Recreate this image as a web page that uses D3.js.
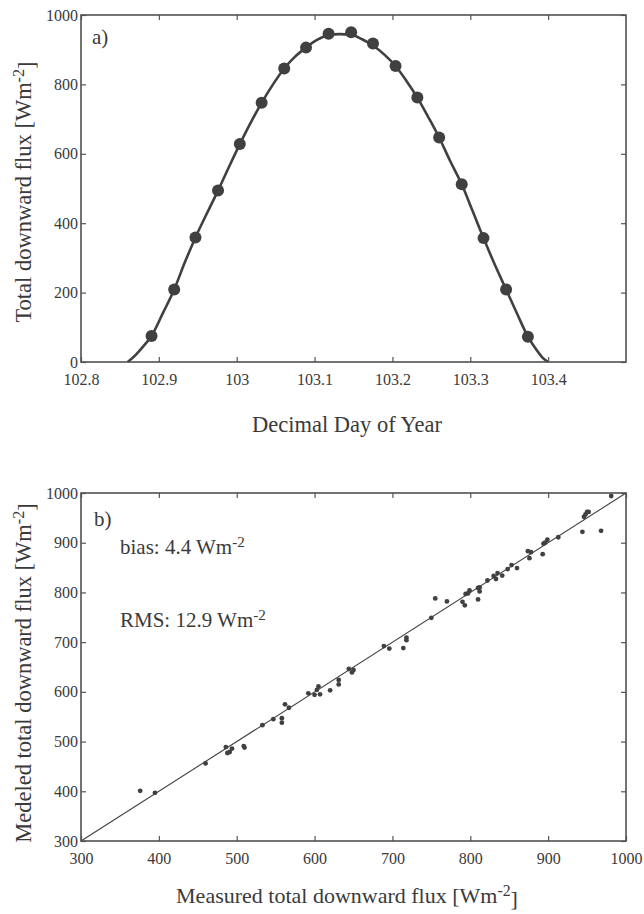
<!DOCTYPE html>
<html>
<head>
<meta charset="utf-8">
<script src="https://cdn.jsdelivr.net/npm/d3@7"></script>
<style>
  body { margin: 0; background: #fff; }
</style>
</head>
<body>
<script>
// panel a) measured curve (decimal day, flux)
const lineDay = [102.860, 102.870, 102.880, 102.8906, 102.905, 102.9197, 102.933, 102.947, 102.961, 102.976,
  102.990, 103.004, 103.018, 103.032, 103.046, 103.061, 103.075, 103.089, 103.103, 103.118,
  103.132, 103.147, 103.161, 103.175, 103.190, 103.204, 103.218, 103.232, 103.246, 103.260,
  103.274, 103.289, 103.303, 103.317, 103.331, 103.346, 103.360, 103.374, 103.385, 103.393, 103.400];
const lineFlux = [0, 20, 45, 75, 140, 209, 285, 359, 425, 494,
  562, 628, 690, 747, 798, 846, 880, 906, 928, 942,
  945, 943, 930, 912, 885, 853, 810, 762, 706, 647,
  580, 512, 435, 357, 283, 209, 140, 73, 35, 12, 0];
// panel a) modeled points
const dotDay = [102.8906, 102.9197, 102.947, 102.976, 103.004, 103.032, 103.061, 103.089, 103.118, 103.147,
  103.175, 103.204, 103.232, 103.260, 103.289, 103.317, 103.346, 103.374];
const dotFlux = [75, 209, 359, 494, 628, 747, 846, 906, 946, 950,
  918, 853, 762, 647, 512, 357, 209, 73];
const dayTicks = [102.8, 102.9, 103, 103.1, 103.2, 103.3, 103.4];
const fluxTicks = [0, 200, 400, 600, 800, 1000];

// panel b) measured vs modeled
const measured = [376, 395, 460, 486, 488, 491, 494, 509, 510, 533,
  547, 558, 558, 562, 567, 592, 600, 603, 605, 607,
  620, 631, 631, 644, 648, 650, 689, 696, 714, 718,
  718, 750, 755, 770, 790, 793, 794, 797, 799, 810,
  812, 812, 810, 822, 830, 833, 835, 841, 848, 853,
  860, 874, 878, 876, 893, 894, 896, 899, 913, 944,
  946, 950, 952, 948, 968, 981];
const modeled = [401, 397, 456, 489, 477, 479, 486, 491, 488, 533,
  545, 547, 538, 575, 568, 597, 594, 604, 611, 595,
  603, 624, 615, 646, 639, 644, 692, 687, 688, 709,
  704, 749, 788, 782, 781, 774, 797, 798, 804, 809,
  810, 802, 786, 824, 833, 827, 839, 834, 847, 855,
  849, 883, 881, 869, 877, 898, 900, 906, 911, 922,
  952, 962, 962, 957, 924, 994];
const scatTicks = [300, 400, 500, 600, 700, 800, 900, 1000];

const W = 644, H = 914;
const FONT = "'Liberation Serif', 'Times New Roman', 'DejaVu Serif', serif";
const svg = d3.select("body").append("svg").attr("width", W).attr("height", H)
  .attr("font-family", FONT);
const ink = "#404040";

function frame(g, x, y, xt, yt, fmtX) {
  const [x0, x1] = x.range(), [y0, y1] = y.range();
  g.append("g").attr("transform", `translate(0,${y0})`)
    .call(d3.axisBottom(x).tickValues(xt).tickSize(-5).tickPadding(12).tickFormat(fmtX));
  g.append("g").attr("transform", `translate(0,${y1})`)
    .call(d3.axisTop(x).tickValues(xt).tickSize(-5).tickFormat(""));
  g.append("g").attr("transform", `translate(${x0},0)`)
    .call(d3.axisLeft(y).tickValues(yt).tickSize(-5).tickPadding(3).tickFormat(d3.format("d")));
  g.append("g").attr("transform", `translate(${x1},0)`)
    .call(d3.axisRight(y).tickValues(yt).tickSize(-5).tickFormat(""));
  g.selectAll(".domain").remove();
  g.selectAll("g").attr("font-family", FONT);
  g.selectAll(".tick line").attr("stroke", "#555").attr("stroke-width", 1.2);
  g.selectAll(".tick text").attr("font-size", 16).attr("fill", "#3a3a3a");
  g.append("rect").attr("x", x0).attr("y", y1).attr("width", x1 - x0).attr("height", y0 - y1)
    .attr("fill", "none").attr("stroke", "#505050").attr("stroke-width", 1.6);
}

function supLabel(sel, base, sup, after) {
  sel.append("tspan").text(base);
  sel.append("tspan").attr("dy", "-0.45em").attr("font-size", "0.72em").text(sup);
  if (after) sel.append("tspan").attr("dy", "0.45em").text(after);
}

function label(g, x, y, size) {
  return g.append("text").attr("x", x).attr("y", y).attr("font-size", size)
    .attr("font-family", FONT).attr("fill", "#3a3a3a");
}

/* ** PANEL A ** */
const xa = d3.scaleLinear().domain([102.8, 103.5]).range([81, 626]);
const ya = d3.scaleLinear().domain([0, 1000]).range([362, 15]);
const ga = svg.append("g");

const lineData = lineDay.map((d, i) => [d, lineFlux[i]]);
ga.append("path").datum(lineData)
  .attr("d", d3.line().x(d => xa(d[0])).y(d => ya(d[1])).curve(d3.curveMonotoneX))
  .attr("fill", "none").attr("stroke", ink).attr("stroke-width", 2.6);

ga.selectAll("circle").data(dotDay.map((d, i) => [d, dotFlux[i]])).enter().append("circle")
  .attr("cx", d => xa(d[0])).attr("cy", d => ya(d[1])).attr("r", 6).attr("fill", ink);

frame(ga, xa, ya, dayTicks, fluxTicks, d => String(d));

label(ga, 92, 44, 21).text("a)");
label(ga, 347, 432, 22.5).attr("text-anchor", "middle").text("Decimal Day of Year");
label(ga, 0, 0, 22.5).attr("transform", "translate(31,192) rotate(-90)").attr("text-anchor", "middle")
  .call(supLabel, "Total downward flux [Wm", "-2", "]");

/* ** PANEL B ** */
const xb = d3.scaleLinear().domain([300, 1000]).range([81, 626]);
const yb = d3.scaleLinear().domain([300, 1000]).range([841, 493]);
const gb = svg.append("g");

gb.append("line").attr("x1", xb(300)).attr("y1", yb(300)).attr("x2", xb(1000)).attr("y2", yb(1000))
  .attr("stroke", ink).attr("stroke-width", 1.1);

gb.selectAll("circle").data(measured.map((d, i) => [d, modeled[i]])).enter().append("circle")
  .attr("cx", d => xb(d[0])).attr("cy", d => yb(d[1])).attr("r", 2.4).attr("fill", ink);

frame(gb, xb, yb, scatTicks, scatTicks, d3.format("d"));

label(gb, 94, 526, 21).text("b)");
label(gb, 120, 554, 21).call(supLabel, "bias: 4.4 Wm", "-2");
label(gb, 120, 627, 21).call(supLabel, "RMS: 12.9 Wm", "-2");
label(gb, 347, 903, 22).attr("text-anchor", "middle")
  .call(supLabel, "Measured total downward flux [Wm", "-2", "]");
label(gb, 0, 0, 22.5).attr("transform", "translate(31,673) rotate(-90)").attr("text-anchor", "middle")
  .call(supLabel, "Medeled total downward flux [Wm", "-2", "]");
</script>
</body>
</html>
